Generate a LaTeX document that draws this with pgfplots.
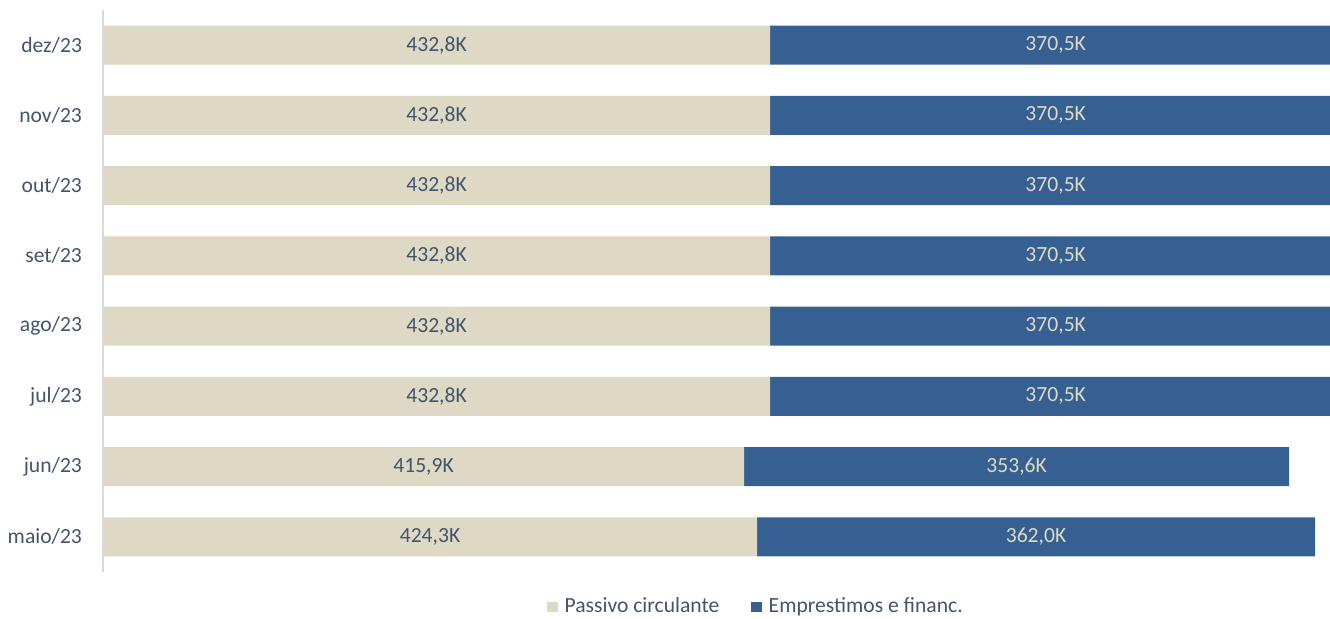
\documentclass[border=0pt]{standalone}
\usepackage{pgfplots}
\pgfplotsset{compat=1.18}
\usepackage{pgfplotstable}
\usepackage{fontspec}
\setmainfont{Carlito}
\definecolor{beige}{HTML}{DDD9C4}
\definecolor{bblue}{HTML}{366092}
\definecolor{txt}{HTML}{44546A}
\definecolor{axgray}{HTML}{D9D9D9}
\pgfplotstableread{
idx p e
0 424.3 362.0
1 415.9 353.6
2 432.8 370.5
3 432.8 370.5
4 432.8 370.5
5 432.8 370.5
6 432.8 370.5
7 432.8 370.5
}\data
\newcommand\fs{\fontsize{10.8}{13}\selectfont}
\begin{document}
\begin{tikzpicture}[font=\fs]
\path[use as bounding box] (0,0) rectangle (665pt,309.5pt);
\pgfplotsset{common/.style={width=613.5pt,height=281pt,scale only axis,
  at={(51.5pt,23.5pt)}, anchor=south west,
  xmin=0,xmax=796,ymin=-0.5,ymax=7.5,
  /pgf/number format/assume math mode=true}}
\begin{axis}[common, xbar stacked, bar width=19.5pt,
  axis x line=none, axis y line*=left,
  axis line style={draw=axgray, line width=0.8pt},
  ytick={0,...,7},
  yticklabels={maio/23,jun/23,jul/23,ago/23,set/23,out/23,nov/23,dez/23},
  major tick length=0pt,
  yticklabel style={text=txt, font=\fs, xshift=-7pt},
  legend columns=2,
  legend style={at={(0.533,-0.062)}, anchor=center, draw=none, fill=none,
    text=txt, font=\fs,
    /tikz/every odd column/.append style={column sep=1.5pt},
    /tikz/every even column/.append style={column sep=14pt}},
  legend image code/.code={\fill[#1] (0pt,-2.6pt) rectangle (5.2pt,2.6pt);},
  clip=true]
\addplot[fill=beige, draw=none] table[x=p,y=idx]{\data};
\addplot[fill=bblue, draw=none] table[x=e,y=idx]{\data};
\legend{Passivo circulante, Emprestimos e financ.}
\end{axis}
\begin{axis}[common, hide axis]
\addplot[draw=none, nodes near coords={\pgfmathprintnumber[fixed,fixed zerofill,precision=1,use comma,assume math mode=true]{\pgfplotspointmeta}K},
  point meta=explicit,
  every node near coord/.append style={anchor=center, text=txt, font=\fs}]
  table[x expr=\thisrow{p}/2, y=idx, meta=p]{\data};
\addplot[draw=none, nodes near coords={\pgfmathprintnumber[fixed,fixed zerofill,precision=1,use comma,assume math mode=true]{\pgfplotspointmeta}K},
  point meta=explicit,
  every node near coord/.append style={anchor=center, text=beige, font=\fs}]
  table[x expr=\thisrow{p}+\thisrow{e}/2, y=idx, meta=e]{\data};
\end{axis}
\end{tikzpicture}
\end{document}
